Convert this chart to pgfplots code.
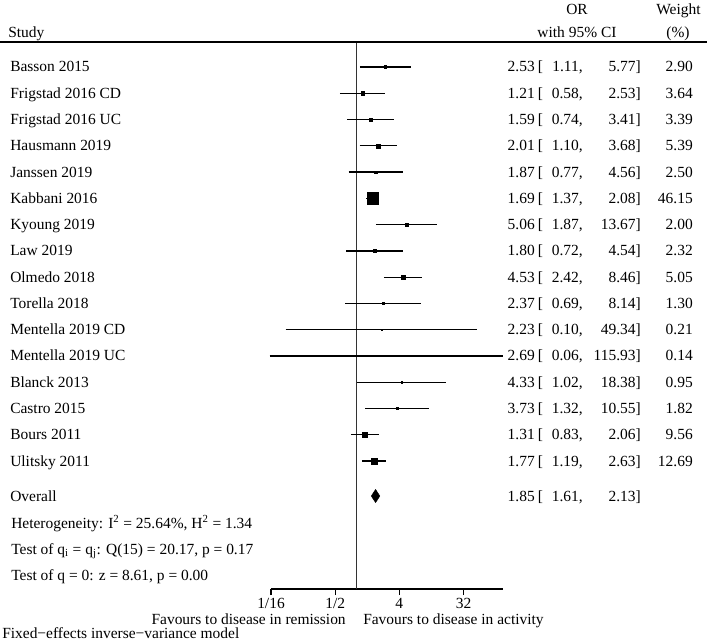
\documentclass[border=0pt]{standalone}
\usepackage{fontspec}
\setmainfont{Liberation Serif}
\usepackage{pgfplots}
\pgfplotsset{compat=1.18}
\usepackage{pgfplotstable}

% y = -(row index), OR, lower CI, upper CI, weight (%)
\pgfplotstableread{
y   or   lo   hi     w
-1  2.53 1.11 5.77   2.90
-2  1.21 0.58 2.53   3.64
-3  1.59 0.74 3.41   3.39
-4  2.01 1.10 3.68   5.39
-5  1.87 0.77 4.56   2.50
-6  1.69 1.37 2.08   46.15
-7  5.06 1.87 13.67  2.00
-8  1.80 0.72 4.54   2.32
-9  4.53 2.42 8.46   5.05
-10 2.37 0.69 8.14   1.30
-11 2.23 0.10 49.34  0.21
-12 2.69 0.06 115.93 0.14
-13 4.33 1.02 18.38  0.95
-14 3.73 1.32 10.55  1.82
-15 1.31 0.83 2.06   9.56
-16 1.77 1.19 2.63   12.69
}\studies

\newcommand\fs{\fontsize{11.6pt}{13pt}\selectfont}
% row: index, name, or, lo, hi, weight
\newcommand\row[6]{%
  \pgfmathsetmacro\ry{67+26.27*(#1-1)+5}%
  \node[anchor=base west,inner sep=0pt] at (10,\ry) {#2};
  \node[anchor=base east,inner sep=0pt] at (535,\ry) {#3};
  \node[anchor=base west,inner sep=0pt] at (537.5,\ry) {[};
  \node[anchor=base east,inner sep=0pt] at (583,\ry) {#4,};
  \node[anchor=base east,inner sep=0pt] at (641,\ry) {#5]};
  \node[anchor=base east,inner sep=0pt] at (693,\ry) {#6};
}

\begin{document}
\begin{tikzpicture}[font=\fs]
\begin{axis}[
  scale only axis, width=174.2pt, height=410.25pt,
  xmode=log, log basis x=2, xmin=0.0625, xmax=115.93,
  ymin=-20.87, ymax=-0.048,
  axis x line=bottom, axis y line=none,
  x axis line style={-, line width=0.9pt, black},
  xtick={0.0625,0.5,4,32}, xticklabels={1/16,1/2,4,32},
  xminorticks=false,
  tick align=outside, major tick length=4.5pt,
  tick style={black, line width=0.8pt},
  xticklabel style={font=\fs, text=black, inner sep=0pt, yshift=-2.5pt},
  clip=false,
]
\addplot[black!80, line width=1.1pt] coordinates {(1,-0.048) (1,-20.87)};
\addplot[black, line width=0.9pt] coordinates {(1.11,-1) (5.77,-1)};
\addplot[black, line width=0.9pt] coordinates {(0.58,-2) (2.53,-2)};
\addplot[black, line width=0.9pt] coordinates {(0.74,-3) (3.41,-3)};
\addplot[black, line width=0.9pt] coordinates {(1.10,-4) (3.68,-4)};
\addplot[black, line width=0.9pt] coordinates {(0.77,-5) (4.56,-5)};
\addplot[black, line width=0.9pt] coordinates {(1.37,-6) (2.08,-6)};
\addplot[black, line width=0.9pt] coordinates {(1.87,-7) (13.67,-7)};
\addplot[black, line width=0.9pt] coordinates {(0.72,-8) (4.54,-8)};
\addplot[black, line width=0.9pt] coordinates {(2.42,-9) (8.46,-9)};
\addplot[black, line width=0.9pt] coordinates {(0.69,-10) (8.14,-10)};
\addplot[black, line width=0.9pt] coordinates {(0.10,-11) (49.34,-11)};
\addplot[black, line width=0.9pt] coordinates {(0.06,-12) (115.93,-12)};
\addplot[black, line width=0.9pt] coordinates {(1.02,-13) (18.38,-13)};
\addplot[black, line width=0.9pt] coordinates {(1.32,-14) (10.55,-14)};
\addplot[black, line width=0.9pt] coordinates {(0.83,-15) (2.06,-15)};
\addplot[black, line width=0.9pt] coordinates {(1.19,-16) (2.63,-16)};
% weighted squares
\addplot[scatter, only marks, mark=square*,
  scatter/use mapped color={draw=black, fill=black},
  mark options={line width=0.3pt},
  visualization depends on={0.645*sqrt(\thisrow{w}) \as \ms},
  scatter/@pre marker code/.append style={/tikz/mark size=\ms pt}]
  table[x=or, y=y] {\studies};
% overall diamond
\addplot[fill=black, draw=black, line width=0.3pt] coordinates {(1.61,-17.33) (1.85,-17.08) (2.13,-17.33) (1.85,-17.58)} -- cycle;
\end{axis}
\begin{scope}[shift={(-203.25pt,441.75pt)}, x=0.75pt, y=-0.75pt]
  \draw[black, line width=0.8pt] (0,42) -- (707,42);
  \node[anchor=base west,inner sep=0pt] at (8,38) {Study};
  \node[anchor=base,inner sep=0pt] at (577,15) {OR};
  \node[anchor=base,inner sep=0pt] at (577,38) {with 95\% CI};
  \node[anchor=base,inner sep=0pt] at (678.5,15) {Weight};
  \node[anchor=base,inner sep=0pt] at (678,38) {(\%)};
  \row{1}{Basson 2015}{2.53}{1.11}{5.77}{2.90}
  \row{2}{Frigstad 2016 CD}{1.21}{0.58}{2.53}{3.64}
  \row{3}{Frigstad 2016 UC}{1.59}{0.74}{3.41}{3.39}
  \row{4}{Hausmann 2019}{2.01}{1.10}{3.68}{5.39}
  \row{5}{Janssen 2019}{1.87}{0.77}{4.56}{2.50}
  \row{6}{Kabbani 2016}{1.69}{1.37}{2.08}{46.15}
  \row{7}{Kyoung 2019}{5.06}{1.87}{13.67}{2.00}
  \row{8}{Law 2019}{1.80}{0.72}{4.54}{2.32}
  \row{9}{Olmedo 2018}{4.53}{2.42}{8.46}{5.05}
  \row{10}{Torella 2018}{2.37}{0.69}{8.14}{1.30}
  \row{11}{Mentella 2019 CD}{2.23}{0.10}{49.34}{0.21}
  \row{12}{Mentella 2019 UC}{2.69}{0.06}{115.93}{0.14}
  \row{13}{Blanck 2013}{4.33}{1.02}{18.38}{0.95}
  \row{14}{Castro 2015}{3.73}{1.32}{10.55}{1.82}
  \row{15}{Bours 2011}{1.31}{0.83}{2.06}{9.56}
  \row{16}{Ulitsky 2011}{1.77}{1.19}{2.63}{12.69}
  % overall
  \node[anchor=base west,inner sep=0pt] at (10,501) {Overall};
  \node[anchor=base east,inner sep=0pt] at (535,501) {1.85};
  \node[anchor=base west,inner sep=0pt] at (537.5,501) {[};
  \node[anchor=base east,inner sep=0pt] at (583,501) {1.61,};
  \node[anchor=base east,inner sep=0pt] at (641,501) {2.13]};
  \node[anchor=base west,inner sep=0pt] at (11,528) {Heterogeneity: I\textsuperscript{2} = 25.64\%, H\textsuperscript{2} = 1.34};
  \node[anchor=base west,inner sep=0pt] at (11,554) {Test of q\textsubscript{i} = q\textsubscript{j}: Q(15) = 20.17, p = 0.17};
  \node[anchor=base west,inner sep=0pt] at (11,580) {Test of q = 0: z = 8.61, p = 0.00};
  \node[anchor=base east,inner sep=0pt] at (346,624.5) {Favours to disease in remission};
  \node[anchor=base west,inner sep=0pt] at (363,624.5) {Favours to disease in activity};
  \node[anchor=base west,inner sep=0pt] at (2,638.5) {Fixed−effects inverse−variance model};
  \pgfresetboundingbox
  \path (0,0) rectangle (710,640);
\end{scope}
\end{tikzpicture}
\end{document}
